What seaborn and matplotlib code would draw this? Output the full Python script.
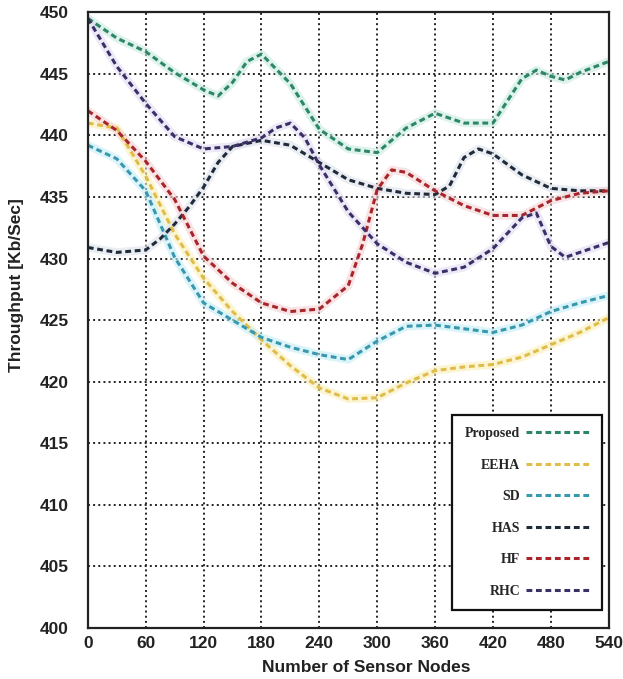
import pandas as pd
import matplotlib.pyplot as plt
import seaborn as sns

# Throughput readings per method (x = number of sensor nodes)
proposed_x = [0, 30, 60, 90, 120, 135, 150, 165, 180, 210, 240, 270, 300, 330, 360, 390, 420, 450, 465, 480, 495, 510, 540]
proposed_y = [449.5, 447.9, 446.8, 445.1, 443.7, 443.2, 444.3, 446.0, 446.6, 444.2, 440.5, 438.9, 438.6, 440.6, 441.8, 441.0, 441.0, 444.6, 445.3, 444.8, 444.5, 445.1, 446.0]

eeha_x = [0, 30, 60, 90, 120, 150, 180, 210, 240, 270, 300, 330, 360, 390, 420, 450, 480, 510, 540]
eeha_y = [441.0, 440.6, 436.7, 432.0, 428.4, 425.7, 423.4, 421.3, 419.5, 418.6, 418.7, 419.9, 420.9, 421.2, 421.4, 422.0, 423.0, 424.0, 425.2]

sd_x = [0, 30, 60, 90, 120, 150, 180, 210, 240, 270, 300, 330, 360, 390, 420, 450, 480, 510, 540]
sd_y = [439.2, 438.1, 435.5, 430.1, 426.4, 425.0, 423.6, 422.8, 422.2, 421.8, 423.3, 424.5, 424.6, 424.3, 424.0, 424.6, 425.7, 426.4, 427.0]

has_x = [0, 30, 60, 75, 90, 105, 120, 135, 150, 180, 210, 240, 270, 300, 330, 360, 375, 390, 405, 420, 450, 480, 510, 540]
has_y = [430.9, 430.5, 430.7, 431.6, 432.8, 434.2, 435.8, 437.8, 439.1, 439.6, 439.2, 437.8, 436.4, 435.7, 435.3, 435.2, 435.9, 438.2, 438.9, 438.5, 436.8, 435.7, 435.5, 435.5]

hf_x = [0, 30, 60, 90, 120, 150, 180, 210, 240, 270, 285, 300, 315, 330, 360, 390, 420, 450, 480, 510, 540]
hf_y = [442.0, 440.4, 437.9, 434.8, 430.2, 428.0, 426.4, 425.7, 425.9, 427.8, 431.2, 435.6, 437.2, 437.0, 435.5, 434.3, 433.5, 433.5, 434.7, 435.3, 435.5]

rhc_x = [0, 30, 60, 90, 120, 150, 180, 195, 210, 225, 240, 270, 300, 330, 360, 390, 420, 450, 465, 480, 495, 510, 540]
rhc_y = [449.5, 445.6, 442.6, 439.9, 438.9, 439.1, 439.8, 440.6, 441.0, 439.8, 437.6, 433.8, 431.2, 429.7, 428.8, 429.3, 430.8, 433.3, 433.7, 431.0, 430.1, 430.5, 431.3]

methods = ['Proposed', 'EEHA', 'SD', 'HAS', 'HF', 'RHC']
series = [(proposed_x, proposed_y), (eeha_x, eeha_y), (sd_x, sd_y),
          (has_x, has_y), (hf_x, hf_y), (rhc_x, rhc_y)]
colors = ['#2e8668', '#e0bd4a', '#3a98ae', '#1f2a3a', '#a8262b', '#3a2f66']
halo_colors = ['#c6eadd', '#fbefb8', '#c4eef6', '#dde1ea', '#f6d3d5', '#e1dbf0']

rows = []
for name, (xs, ys) in zip(methods, series):
    for x, y in zip(xs, ys):
        rows.append({'Nodes': x, 'Throughput': y, 'Method': name})
df = pd.DataFrame(rows)

sns.set_style('white')
plt.rcParams['font.family'] = ['Liberation Sans', 'DejaVu Sans']

fig = plt.figure(figsize=(6.23, 6.79), dpi=100)
ax = fig.add_axes([0.141, 0.075, 0.836, 0.907])

# soft glow under each line
sns.lineplot(data=df, x='Nodes', y='Throughput', hue='Method', hue_order=methods,
             palette=dict(zip(methods, halo_colors)), linewidth=6, alpha=0.6,
             legend=False, ax=ax, estimator=None, sort=True)
sns.lineplot(data=df, x='Nodes', y='Throughput', hue='Method', style='Method',
             hue_order=methods, style_order=methods,
             palette=dict(zip(methods, colors)),
             dashes={m: (1.9, 1.2) for m in methods},
             linewidth=2.2, ax=ax, estimator=None, sort=True)

ax.set_xlim(0, 540)
ax.set_ylim(400, 450)
ax.set_xticks(range(0, 541, 60))
ax.set_yticks(range(400, 451, 5))
ax.grid(True, linestyle=':', color='#222222', linewidth=1.4)
for s in ax.spines.values():
    s.set_color('#222222')
    s.set_linewidth(1.6)
ax.tick_params(axis='both', length=0, labelsize=12.5, colors='#222222')
ax.tick_params(axis='y', pad=14)
ax.tick_params(axis='x', pad=6)
for lab in ax.get_xticklabels() + ax.get_yticklabels():
    lab.set_fontweight('bold')

ax.set_xlabel('Number of Sensor Nodes', fontsize=12.5, fontweight='bold', color='#222222')
ax.set_ylabel('Throughput [Kb/Sec]', fontsize=12.5, fontweight='bold', color='#222222')
ax.xaxis.set_label_coords(0.535, -0.052)
ax.yaxis.set_label_coords(-0.123, 0.557)

handles, labels = ax.get_legend_handles_labels()
leg = ax.legend(handles, labels, loc='lower left', bbox_to_anchor=(0.70, 0.029),
                borderaxespad=0, markerfirst=False, handlelength=4.6, labelspacing=1.33,
                fancybox=False, framealpha=1, edgecolor='#111111',
                prop={'family': ['Liberation Serif', 'DejaVu Serif'], 'weight': 'bold', 'size': 10},
                borderpad=0.9, handletextpad=0.4)
leg.get_frame().set_linewidth(1.6)

plt.savefig('out.png', dpi=100)
